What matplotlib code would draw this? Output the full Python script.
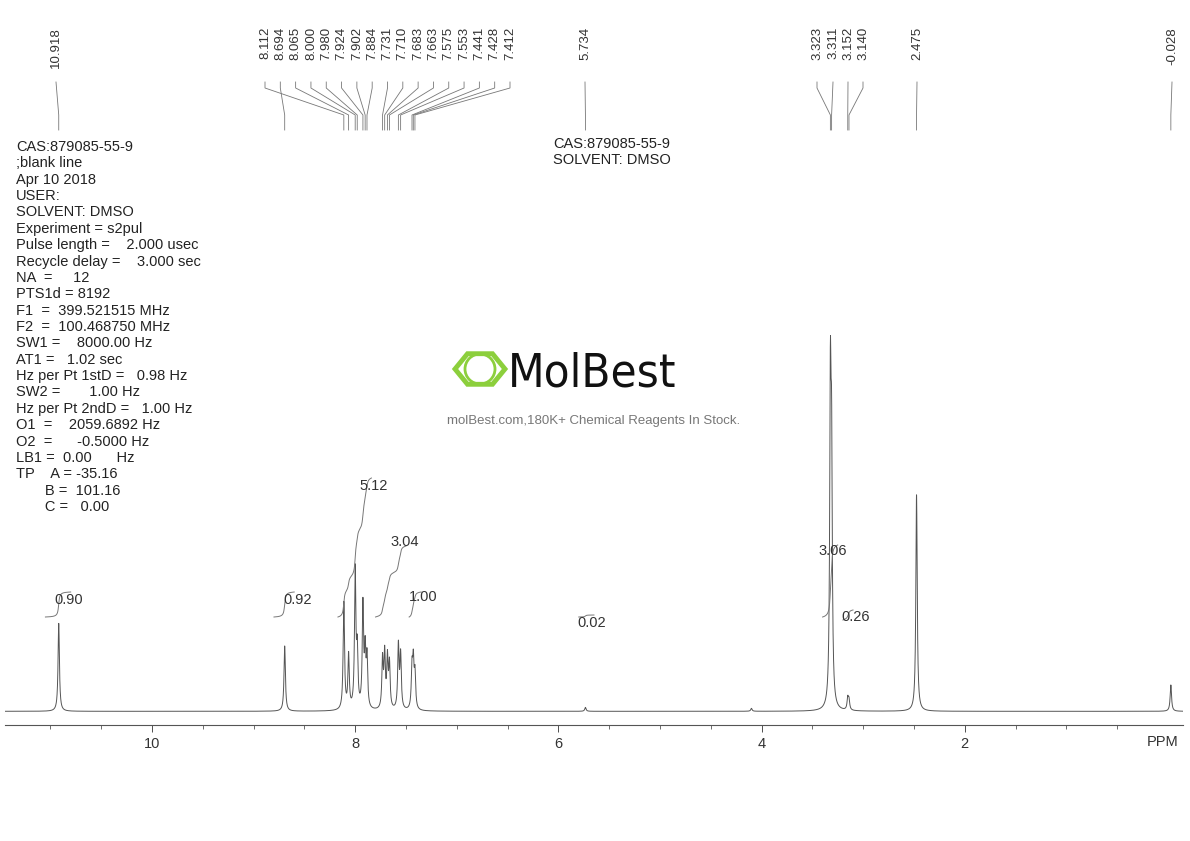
import numpy as np
import matplotlib.pyplot as plt
from matplotlib.lines import Line2D
from matplotlib.patches import RegularPolygon, Ellipse

plt.rcParams['font.family'] = ['Liberation Sans', 'DejaVu Sans']

W, H = 1190, 841

# peak list: ppm, height (arbitrary units)
peak_ppm = [10.918, 8.694, 8.112, 8.065, 8.000, 7.980, 7.924, 7.902, 7.884,
            7.731, 7.710, 7.683, 7.663, 7.575, 7.553, 7.441, 7.428, 7.412,
            5.734, 4.100, 3.323, 3.311, 3.152, 3.140, 2.475, -0.028]
peak_h = [90, 67, 110, 55, 140, 55, 105, 55, 50,
          50, 55, 50, 45, 65, 55, 40, 45, 35,
          4, 3, 310, 230, 12, 10, 222, 27]

# order of labels along the top (left to right)
label_order = ["10.918", "8.112", "8.694", "8.065", "8.000", "7.980", "7.924", "7.902",
               "7.884", "7.731", "7.710", "7.683", "7.663", "7.575", "7.553", "7.441",
               "7.428", "7.412", "5.734", "3.323", "3.311", "3.152", "3.140", "2.475", "-0.028"]
label_x = [56] + list(np.linspace(265, 510, 17)) + [585, 817, 833, 848, 863, 917, 1172]

# integrals: ppm start, ppm end, value, label position (px)
int_start = [11.05, 8.80, 8.17, 7.80, 7.47, 5.80, 3.40, 3.20]
int_end = [10.80, 8.60, 7.84, 7.50, 7.35, 5.65, 3.25, 3.10]
int_val = ["0.90", "0.92", "5.12", "3.04", "1.00", "0.02", "3.06", "0.26"]
int_lab = [(69, 600), (298, 600), (374, 486), (405, 542), (423, 597), (592, 623), (833, 551), (856, 617)]
int_span = [(617, 592), (617, 592), (617, 478), (617, 546), (617, 592), (617, 615), (617, 545), (620, 610)]

params = """CAS:879085-55-9
;blank line
Apr 10 2018
USER:
SOLVENT: DMSO
Experiment = s2pul
Pulse length =    2.000 usec
Recycle delay =    3.000 sec
NA  =     12
PTS1d = 8192
F1  =  399.521515 MHz
F2  =  100.468750 MHz
SW1 =    8000.00 Hz
AT1 =   1.02 sec
Hz per Pt 1stD =   0.98 Hz
SW2 =       1.00 Hz
Hz per Pt 2ndD =   1.00 Hz
O1  =    2059.6892 Hz
O2  =      -0.5000 Hz
LB1 =  0.00      Hz
TP    A = -35.16
       B =  101.16
       C =   0.00"""


def ppm2px(p):
    return 152 + (10 - p) * 101.6


def fx(x):
    return x / W


def fy(y):
    return 1 - y / H


fig = plt.figure(figsize=(W / 100, H / 100), dpi=100)
ax = fig.add_axes([fx(5), fy(725), fx(1183) - fx(5), fy(130) - fy(725)])

x = np.linspace(11.5, -0.16, 12000)
y = np.zeros_like(x)
hw = 0.008
for p, h in zip(peak_ppm, peak_h):
    y += h * hw**2 / ((x - p)**2 + hw**2)
ax.plot(x, y, color="#555555", lw=0.7)

ax.set_xlim(10 + 147 / 101.6, 10 - (1183 - 152) / 101.6)
ax.set_ylim(-14, 595)
for s in ["top", "right", "left"]:
    ax.spines[s].set_visible(False)
ax.spines["bottom"].set_color("#555555")
ax.set_yticks([])
ax.set_xticks([10, 8, 6, 4, 2])
ax.set_xticks(np.arange(0.5, 11.5, 0.5), minor=True)
ax.tick_params(axis="x", colors="#333333", labelsize=10.5, length=5, width=0.6)
ax.tick_params(axis="x", which="minor", length=3, width=0.6, colors="#555555")

# integral curves
for a, b, v, (lx, ly), (y0, y1) in zip(int_start, int_end, int_val, int_lab, int_span):
    m = (x <= a) & (x >= b)
    c = np.cumsum(y[m])
    c = (c - c.min()) / (c.max() - c.min() + 1e-9)
    px = [fx(ppm2px(p)) for p in x[m]]
    py = [fy(y0 + (y1 - y0) * t) for t in c]
    fig.add_artist(Line2D(px, py, color="#777777", lw=0.7))
    fig.text(fx(lx), fy(ly), v, fontsize=10.5, color="#333333", ha="center", va="center")

# peak labels along the top
for lab, lxp in zip(label_order, label_x):
    pk = ppm2px(float(lab))
    fig.text(fx(lxp), fy(27), lab, rotation=90, fontsize=9.5, color="#333333",
             ha="center", va="top")
    fig.add_artist(Line2D([fx(lxp), fx(lxp), fx(pk), fx(pk)],
                          [fy(82), fy(88 if abs(lxp - pk) > 3 else 82), fy(115), fy(130)],
                          color="#777777", lw=0.6))

fig.text(fx(16), fy(140), params, fontsize=10.5, color="#222222", va="top",
         ha="left", linespacing=1.215)
fig.text(fx(553), fy(137), "CAS:879085-55-9\nSOLVENT: DMSO", fontsize=10.5,
         color="#222222", va="top", ha="left", linespacing=1.215)

# watermark
fig.add_artist(RegularPolygon((fx(480), fy(369)), 6, radius=0.021, orientation=np.pi / 2,
                              transform=fig.transFigure, fill=False, ec="#8ccf3c", lw=3.5))
fig.add_artist(Ellipse((fx(480), fy(369)), 2 * 15 / W, 2 * 15 / H,
                       transform=fig.transFigure, fill=False, ec="#8ccf3c", lw=2))
fig.text(fx(508), fy(374), "MolBest", fontsize=34, color="#111111", va="center", ha="left",
         family="DejaVu Sans", fontstretch="condensed")
fig.text(fx(594), fy(421), "molBest.com,180K+ Chemical Reagents In Stock.", fontsize=9.5,
         color="#777777", ha="center", va="center")

fig.text(fx(1163), fy(742), "PPM", fontsize=10.5, color="#333333", ha="center", va="center")

fig.savefig("out.png", dpi=100)
